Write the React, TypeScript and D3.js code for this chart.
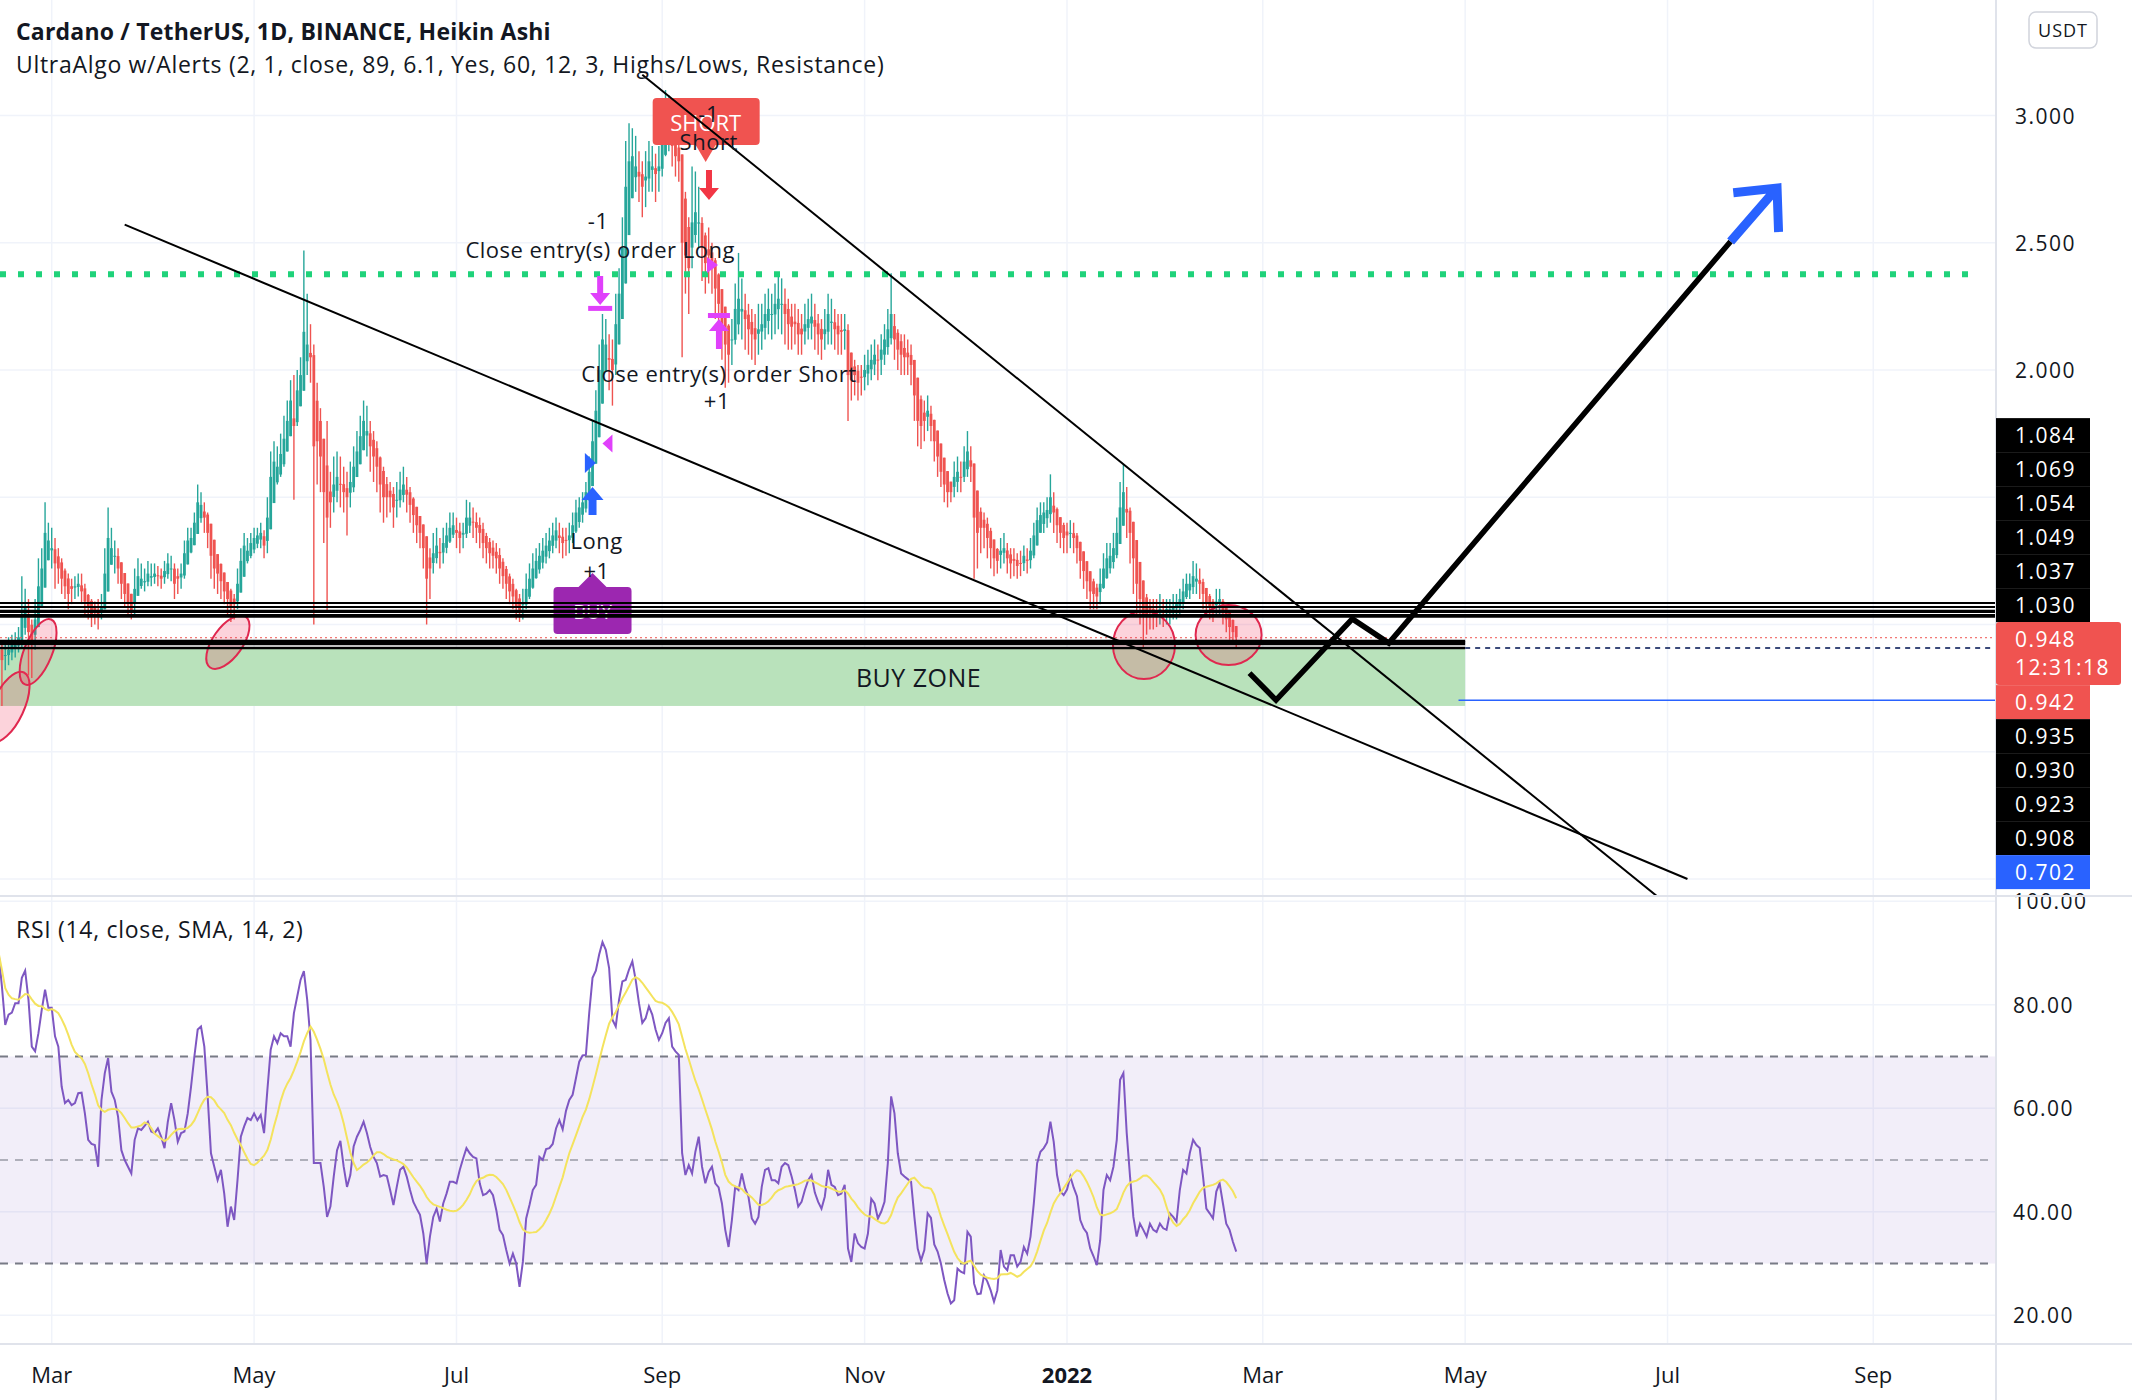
import React from "react";
import * as d3 from "d3";

const W = 2132;
const H = 1400;
const FONT = "'Open Sans', 'Noto Sans', sans-serif";
const UP = "#26a69a";
const DOWN = "#ef5350";

// ---- Heikin Ashi daily candles [high, low, close], first candle 2021-02-13
const haFeb2021 = [[0.95,0.80,0.89],[0.92,0.68,0.86],[0.93,0.82,0.88],[0.95,0.84,0.90],[0.96,0.86,0.92],[0.97,0.87,0.93],[0.99,0.89,0.95],[1.19,0.91,1.04],[1.14,0.96,1.07],[1.10,0.80,0.97],[1.02,0.79,0.92],[1.10,0.90,1.02],[1.26,1.00,1.15],[1.30,1.10,1.22],[1.48,1.18,1.36],[1.40,1.26,1.33]];
const haMar2021 = [[1.38,1.22,1.30],[1.34,1.14,1.24],[1.30,1.16,1.22],[1.26,1.12,1.18],[1.22,1.10,1.15],[1.20,1.06,1.12],[1.18,1.08,1.14],[1.19,1.10,1.15],[1.20,1.11,1.16],[1.20,1.08,1.13],[1.16,1.04,1.09],[1.12,1.02,1.07],[1.10,0.99,1.04],[1.09,1.00,1.05],[1.10,0.98,1.04],[1.12,1.02,1.07],[1.30,1.06,1.20],[1.46,1.18,1.34],[1.38,1.24,1.30],[1.33,1.20,1.27],[1.30,1.16,1.22],[1.24,1.10,1.16],[1.18,1.07,1.12],[1.14,1.04,1.08],[1.11,1.02,1.05],[1.22,1.04,1.14],[1.26,1.12,1.19],[1.24,1.14,1.18],[1.22,1.13,1.17],[1.25,1.15,1.20],[1.24,1.15,1.19]];
const haApr2021 = [[1.24,1.16,1.20],[1.23,1.15,1.19],[1.22,1.14,1.18],[1.25,1.16,1.21],[1.28,1.18,1.24],[1.27,1.17,1.22],[1.24,1.10,1.16],[1.22,1.12,1.18],[1.24,1.14,1.20],[1.33,1.18,1.28],[1.38,1.26,1.33],[1.38,1.28,1.34],[1.44,1.32,1.40],[1.55,1.38,1.48],[1.52,1.40,1.47],[1.48,1.36,1.42],[1.44,1.30,1.36],[1.38,1.18,1.27],[1.30,1.14,1.22],[1.26,1.12,1.20],[1.24,1.10,1.17],[1.20,1.08,1.13],[1.16,1.04,1.10],[1.14,1.01,1.07],[1.12,1.02,1.08],[1.22,1.06,1.16],[1.30,1.14,1.25],[1.36,1.24,1.31],[1.34,1.24,1.29],[1.36,1.26,1.32]];
const haMay2021 = [[1.38,1.28,1.34],[1.38,1.30,1.35],[1.40,1.30,1.36],[1.37,1.26,1.31],[1.50,1.28,1.42],[1.68,1.44,1.58],[1.72,1.56,1.64],[1.70,1.55,1.62],[1.75,1.58,1.67],[1.82,1.62,1.73],[1.88,1.68,1.80],[1.96,1.76,1.88],[1.98,1.49,1.78],[2.00,1.78,1.92],[2.05,1.88,1.98],[2.47,1.95,2.15],[2.30,1.98,2.10],[2.18,1.95,2.05],[2.10,1.00,1.70],[1.95,1.55,1.72],[1.85,1.52,1.66],[1.72,1.32,1.52],[1.80,1.05,1.42],[1.60,1.38,1.48],[1.66,1.44,1.55],[1.68,1.48,1.58],[1.66,1.46,1.55],[1.62,1.44,1.52],[1.60,1.35,1.50],[1.64,1.46,1.56],[1.70,1.52,1.62]];
const haJun2021 = [[1.76,1.58,1.68],[1.82,1.64,1.74],[1.88,1.70,1.80],[1.86,1.66,1.76],[1.80,1.60,1.70],[1.76,1.56,1.66],[1.72,1.52,1.62],[1.66,1.44,1.55],[1.62,1.40,1.50],[1.58,1.42,1.50],[1.56,1.44,1.50],[1.54,1.38,1.46],[1.56,1.42,1.49],[1.60,1.46,1.53],[1.62,1.48,1.55],[1.58,1.44,1.51],[1.54,1.40,1.47],[1.50,1.36,1.43],[1.46,1.32,1.39],[1.42,1.30,1.36],[1.38,1.22,1.30],[1.32,1.00,1.18],[1.30,1.10,1.22],[1.36,1.20,1.28],[1.38,1.24,1.31],[1.34,1.22,1.28],[1.38,1.24,1.32],[1.40,1.28,1.35],[1.44,1.32,1.38],[1.44,1.34,1.39]];
const haJul2021 = [[1.42,1.30,1.36],[1.40,1.28,1.34],[1.40,1.30,1.36],[1.49,1.34,1.42],[1.48,1.36,1.42],[1.46,1.34,1.40],[1.44,1.32,1.38],[1.42,1.30,1.36],[1.40,1.26,1.32],[1.36,1.24,1.30],[1.34,1.22,1.28],[1.33,1.22,1.27],[1.32,1.20,1.26],[1.30,1.16,1.22],[1.26,1.14,1.19],[1.23,1.10,1.16],[1.20,1.08,1.13],[1.18,1.06,1.11],[1.14,1.02,1.07],[1.12,1.01,1.05],[1.14,1.02,1.08],[1.20,1.06,1.14],[1.24,1.10,1.18],[1.28,1.14,1.22],[1.30,1.18,1.25],[1.32,1.20,1.27],[1.34,1.22,1.29],[1.36,1.24,1.31],[1.38,1.26,1.33],[1.40,1.28,1.35],[1.42,1.30,1.37]];
const haAug2021 = [[1.40,1.28,1.34],[1.38,1.26,1.32],[1.38,1.27,1.33],[1.40,1.28,1.35],[1.44,1.32,1.39],[1.49,1.36,1.44],[1.50,1.38,1.46],[1.52,1.40,1.48],[1.56,1.44,1.52],[1.66,1.50,1.60],[1.80,1.58,1.72],[1.92,1.70,1.84],[2.10,1.84,2.00],[2.22,1.96,2.12],[2.20,2.00,2.10],[2.14,1.92,2.04],[2.12,1.86,2.00],[2.30,1.98,2.18],[2.40,2.10,2.30],[2.60,2.28,2.48],[2.90,2.45,2.72],[2.97,2.62,2.82],[2.95,2.68,2.84],[2.92,2.70,2.80],[2.86,2.66,2.76],[2.82,2.60,2.72],[2.86,2.64,2.76],[2.90,2.70,2.82],[2.88,2.70,2.80],[2.85,2.66,2.77],[2.88,2.70,2.80]];
const haSep2021 = [[3.00,2.76,2.90],[3.10,2.84,2.98],[3.08,2.86,2.96],[2.98,2.80,2.88],[2.92,2.76,2.84],[2.90,2.74,2.82],[2.84,2.05,2.50],[2.70,2.30,2.45],[2.60,2.22,2.40],[2.80,2.40,2.58],[2.78,2.50,2.62],[2.72,2.48,2.58],[2.60,2.35,2.48],[2.54,2.30,2.42],[2.56,2.34,2.45],[2.50,2.30,2.40],[2.44,2.20,2.32],[2.38,2.14,2.26],[2.30,2.04,2.18],[2.24,1.93,2.10],[2.18,1.95,2.06],[2.20,2.02,2.12],[2.34,2.10,2.24],[2.46,2.14,2.28],[2.36,2.12,2.24],[2.30,2.08,2.20],[2.26,2.06,2.16],[2.24,2.04,2.14],[2.22,2.02,2.12],[2.26,2.06,2.16]];
const haOct2021 = [[2.26,2.08,2.18],[2.30,2.12,2.22],[2.32,2.14,2.24],[2.30,2.12,2.22],[2.34,2.14,2.26],[2.38,2.16,2.28],[2.36,2.14,2.26],[2.32,2.10,2.22],[2.28,2.08,2.18],[2.26,2.08,2.17],[2.26,2.10,2.18],[2.24,2.06,2.14],[2.22,2.06,2.14],[2.26,2.10,2.18],[2.28,2.12,2.20],[2.30,2.12,2.21],[2.26,2.08,2.17],[2.22,2.06,2.14],[2.20,2.04,2.12],[2.24,2.08,2.16],[2.30,2.10,2.22],[2.28,2.10,2.19],[2.24,2.08,2.16],[2.22,2.06,2.14],[2.22,2.06,2.15],[2.22,2.08,2.16],[2.18,1.80,1.98],[2.03,1.88,1.96],[2.04,1.90,1.98],[2.02,1.88,1.95],[2.02,1.90,1.97]];
const haNov2021 = [[2.06,1.92,2.00],[2.08,1.94,2.02],[2.10,1.96,2.04],[2.12,1.98,2.06],[2.10,1.96,2.04],[2.14,1.98,2.08],[2.18,2.02,2.12],[2.24,2.06,2.16],[2.38,2.10,2.22],[2.22,2.04,2.12],[2.16,2.00,2.08],[2.14,1.98,2.06],[2.14,1.98,2.05],[2.12,1.98,2.05],[2.10,1.94,2.02],[2.02,1.80,1.90],[1.94,1.70,1.80],[1.90,1.69,1.78],[1.88,1.72,1.80],[1.90,1.76,1.84],[1.86,1.72,1.78],[1.80,1.64,1.72],[1.74,1.58,1.66],[1.68,1.54,1.60],[1.62,1.48,1.55],[1.58,1.46,1.52],[1.56,1.48,1.52],[1.64,1.50,1.58],[1.66,1.52,1.60],[1.64,1.52,1.58]];
const haDec2021 = [[1.70,1.56,1.64],[1.76,1.58,1.68],[1.70,1.56,1.62],[1.62,1.18,1.42],[1.48,1.22,1.36],[1.46,1.28,1.38],[1.44,1.30,1.38],[1.42,1.26,1.34],[1.38,1.22,1.30],[1.32,1.19,1.26],[1.30,1.20,1.25],[1.34,1.22,1.29],[1.36,1.24,1.30],[1.32,1.20,1.26],[1.30,1.18,1.24],[1.30,1.19,1.25],[1.28,1.18,1.23],[1.29,1.19,1.24],[1.31,1.21,1.27],[1.30,1.20,1.25],[1.34,1.22,1.29],[1.40,1.26,1.35],[1.46,1.32,1.41],[1.48,1.36,1.43],[1.48,1.36,1.44],[1.50,1.38,1.45],[1.59,1.40,1.50],[1.52,1.36,1.44],[1.46,1.32,1.39],[1.42,1.30,1.36],[1.40,1.28,1.34]];
const haJan2022 = [[1.40,1.28,1.35],[1.41,1.30,1.36],[1.40,1.28,1.34],[1.36,1.24,1.30],[1.32,1.18,1.25],[1.28,1.14,1.21],[1.24,1.10,1.17],[1.20,1.06,1.13],[1.18,1.06,1.12],[1.16,1.06,1.11],[1.22,1.08,1.16],[1.28,1.14,1.22],[1.32,1.18,1.26],[1.32,1.20,1.27],[1.36,1.22,1.30],[1.42,1.26,1.36],[1.56,1.34,1.46],[1.63,1.40,1.52],[1.54,1.34,1.44],[1.46,1.24,1.36],[1.38,1.12,1.26],[1.28,1.04,1.16],[1.20,1.00,1.10],[1.14,0.91,1.04],[1.12,0.96,1.04],[1.10,0.98,1.05],[1.10,0.98,1.04],[1.10,0.99,1.05],[1.12,1.00,1.06],[1.10,0.99,1.05],[1.10,1.00,1.06]];
const haFeb2022 = [[1.10,1.00,1.06],[1.12,1.02,1.07],[1.12,1.02,1.08],[1.14,1.04,1.10],[1.18,1.06,1.13],[1.20,1.10,1.16],[1.20,1.10,1.16],[1.25,1.12,1.19],[1.24,1.12,1.18],[1.22,1.10,1.16],[1.18,1.06,1.12],[1.14,1.03,1.08],[1.12,1.02,1.07],[1.10,1.01,1.06],[1.14,1.03,1.09],[1.14,1.04,1.10],[1.10,1.00,1.05],[1.06,0.97,1.02],[1.04,0.94,0.99],[1.02,0.92,0.97],[0.99,0.91,0.95]];
const haOpenSeed = 0.91;

// ---- RSI(14) daily values, same days
const rsiFeb2021 = [90.0,83.5,76.1,78.1,78.5,80.3,80.3,85.2,86.6,81.0,71.9,71.0,74.5,79.0,82.9,79.4];
const rsiMar2021 = [79.4,73.9,71.9,64.2,61.0,61.6,60.6,61.0,62.9,63.0,59.0,53.9,53.1,52.9,48.7,61.6,66.8,69.7,63.2,61.6,58.4,51.9,50.0,48.7,47.4,53.9,56.1,55.8,56.6,57.4,55.5];
const rsiApr2021 = [55.2,56.1,54.5,52.3,57.4,61.0,57.7,53.5,55.2,55.5,59.0,64.2,70.0,75.2,75.8,71.9,62.3,51.3,48.7,46.1,48.1,43.5,37.1,41.0,38.4,46.1,54.5,56.5,58.1,57.7];
const rsiMay2021 = [59.0,57.7,58.7,55.2,63.5,71.3,73.9,72.6,74.5,73.9,73.9,71.9,78.4,81.6,84.8,86.5,81.0,73.2,49.4,49.4,49.4,44.8,39.0,41.0,46.8,51.9,53.7,48.7,44.8,47.1,52.6];
const rsiJun2021 = [54.5,55.8,57.4,55.2,52.5,50.6,49.4,46.8,47.1,46.9,44.2,41.3,44.8,48.1,48.7,46.8,44.2,41.9,40.6,39.4,35.8,30.0,35.2,39.0,40.6,38.1,41.6,43.5,45.8,45.8];
const rsiJul2021 = [45.5,48.1,50.3,52.3,51.3,50.6,50.3,45.5,43.2,43.5,44.2,43.2,40.3,36.5,35.5,32.6,30.0,31.9,30.0,25.5,30.3,38.7,41.3,44.2,45.2,50.6,50.0,52.1,52.3,53.1,56.1];
const rsiAug2021 = [57.7,55.9,59.5,61.6,62.6,65.8,69.0,70.2,70.3,78.4,85.2,86.6,89.7,92.1,90.6,87.1,77.1,75.8,81.0,84.5,84.8,86.8,88.4,84.8,80.3,76.5,77.4,79.7,78.1,75.2,73.2];
const rsiSep2021 = [74.5,76.5,77.4,71.9,71.0,70.3,51.3,47.1,49.0,47.4,51.6,54.5,48.7,45.5,47.7,48.7,45.5,44.7,41.6,36.5,33.2,38.4,44.8,44.2,47.4,44.5,42.9,38.7,37.7,39.0];
const rsiOct2021 = [44.8,48.1,48.4,46.1,46.1,45.5,48.7,49.4,49.0,46.8,44.2,41.0,41.9,44.2,46.1,47.1,43.7,41.9,40.6,42.9,48.1,45.2,44.8,43.2,43.5,45.2,32.9,30.3,35.8,33.9,33.2];
const rsiNov2021 = [32.9,35.8,42.5,41.6,38.7,40.0,41.9,49.4,62.3,59.0,51.3,47.4,46.8,46.3,45.8,39.0,32.9,30.6,32.6,39.7,38.8,33.7,32.3,30.0,26.8,24.2,22.3,22.9,29.0,28.4];
const rsiDec2021 = [28.1,36.1,35.2,26.1,24.1,24.2,27.7,26.5,24.8,22.6,24.8,32.6,29.4,28.7,31.6,31.6,29.4,30.3,33.2,31.9,35.2,41.6,49.4,51.6,52.3,53.4,57.4,53.5,47.1,43.9,43.2];
const rsiJan2022 = [44.3,46.8,44.7,43.0,38.4,36.8,35.9,32.9,31.4,29.7,34.5,44.2,47.1,46.1,48.7,53.9,65.5,66.8,55.2,46.8,39.0,35.2,37.7,36.5,35.2,37.7,36.5,36.1,37.7,36.8,36.5];
const rsiFeb2022 = [39.7,39.0,38.1,44.2,48.1,47.4,51.3,53.9,52.9,52.3,46.8,40.6,39.7,38.7,43.9,45.5,41.6,37.7,36.5,34.2,32.3];
const rsiMaLength = 14;

// ---- levels and axis
const resistanceLevels = [1.084, 1.069, 1.054, 1.049, 1.037, 1.03, 0.935, 0.93, 0.923, 0.908];
const lastPrice = 0.948;
const countdown = "12:31:18";
const alertPrice = 0.942;
const targetLevel = 0.702;
const targetLevelFrom = "2022-04-29";
const dottedResistance = 2.376;
const buyZone = [0.68, 0.908];
const buyZoneEnd = "2022-05-01";
const priceTicks = [0, 0.5, 1, 1.5, 2, 2.5, 3];
const rsiTicks = [20, 40, 60, 80, 100];
const rsiBands = [30, 50, 70];
const monthTicks = ["2021-03-01", "2021-05-01", "2021-07-01", "2021-09-01", "2021-11-01", "2022-01-01", "2022-03-01", "2022-05-01", "2022-07-01", "2022-09-01"];
const monthLabels = ["Mar", "May", "Jul", "Sep", "Nov", "2022", "Mar", "May", "Jul", "Sep"];

// ---- drawings (date, price)
const lowerWedge = [["2021-03-23", 2.571], ["2022-07-07", 0.0]];
const upperWedge = [["2021-08-26", 3.16], ["2022-06-29", -0.08]];
const projection = [["2022-02-25", 0.809], ["2022-03-05", 0.703], ["2022-03-28", 1.022], ["2022-04-08", 0.927], ["2022-07-20", 2.505]];
const projectionArrow = [["2022-07-20", 2.505], ["2022-08-03", 2.715]];
// ellipses: [day index, price]
const ellipseAnchors = [[2.8, 0.676], [11.9, 0.892], [69.1, 0.931], [345.2, 0.919], [370.7, 0.959]];

// strategy signals (day index, price)
const longSignal = { day: 179, label: 1.202, arrow: 1.54, textLong: 1.332, textQty: 1.214 };
const longMarkers = { enterDay: 178.2, enterPrice: 1.635, exitDay: 183.5, exitPrice: 1.711 };
const closeLong = { day: 181.3, bar: 2.244, qty: 2.589, text: 2.475 };
const shortSignal = { day: 213.1, label: 2.817, qty: 3.01, text: 2.9, arrowDay: 214.1, arrow: 2.668 };
const shortMarker = { day: 215, price: 2.413 };
const closeShort = { day: 217.1, bar: 2.216, text: 1.988, qty: 1.882 };

export default function App() {
  const parse = d3.utcParse("%Y-%m-%d");
  const D = (s: string) => parse(s) as Date;
  const start = D("2021-02-13");
  const dayAt = (i: number) => new Date(start.getTime() + i * 86400000);

  const PR = 1996; // plot right
  const PANE1_B = 896;
  const RSI_T = 897;
  const RSI_B = 1344;

  const x = d3.scaleUtc().domain([D("2021-03-01"), D("2022-01-01")]).range([51.7, 1067]);
  const yP = d3.scaleLinear().domain([0, 3]).range([879, 115.5]);
  const yR = d3.scaleLinear().domain([0, 100]).range([1418.75, 901.25]);
  const xd = (i: number) => x(dayAt(i));

  const ha = [...haFeb2021, ...haMar2021, ...haApr2021, ...haMay2021, ...haJun2021, ...haJul2021, ...haAug2021, ...haSep2021, ...haOct2021, ...haNov2021, ...haDec2021, ...haJan2022, ...haFeb2022];
  let prevO = haOpenSeed;
  let prevC = haOpenSeed;
  const candles = ha.map(([h, l, c], i) => {
    const o = i === 0 ? haOpenSeed : (prevO + prevC) / 2;
    prevO = o;
    prevC = c;
    return { i, o, c, h: Math.max(h, o, c), l: Math.min(l, o, c) };
  });

  const rsi = [...rsiFeb2021, ...rsiMar2021, ...rsiApr2021, ...rsiMay2021, ...rsiJun2021, ...rsiJul2021, ...rsiAug2021, ...rsiSep2021, ...rsiOct2021, ...rsiNov2021, ...rsiDec2021, ...rsiJan2022, ...rsiFeb2022];
  const rsiMa = rsi.map((_, i) => d3.mean(rsi.slice(Math.max(0, i - rsiMaLength + 1), i + 1)) as number);
  const rsiLine = d3.line<number>().x((_, i) => xd(i)).y((v) => yR(v));

  const ptLine = d3.line<any>().x((d) => x(D(d[0]))).y((d) => yP(d[1]));

  const upperLevels = resistanceLevels.filter((v) => v > lastPrice);
  const lowerLevels = resistanceLevels.filter((v) => v < lastPrice);

  // price-axis label stack
  type Lab = { text: string; sub?: string; fill: string; h: number; w: number };
  const stack: Lab[] = [
    ...upperLevels.map((v) => ({ text: v.toFixed(3), fill: "#000000", h: 34, w: 94 })),
    { text: lastPrice.toFixed(3), sub: countdown, fill: "#f05350", h: 63, w: 125 },
    { text: alertPrice.toFixed(3), fill: "#f05350", h: 34, w: 94 },
    ...lowerLevels.map((v) => ({ text: v.toFixed(3), fill: "#000000", h: 34, w: 94 })),
    { text: targetLevel.toFixed(3), fill: "#2962ff", h: 34, w: 94 },
  ];
  let cursor = yP(upperLevels[0]) - 185;
  const stackTop = cursor;
  const stackPos = stack.map((s) => {
    const top = cursor;
    cursor += s.h;
    return { ...s, top };
  });
  const stackBottom = cursor;
  // tick labels hidden behind the label stack are not drawn
  const visiblePriceTicks = priceTicks.filter((p) => yP(p) < stackTop - 10 || yP(p) > stackBottom + 10);

  const ell = [
    { rx: 38, ry: 16, rot: -65 },
    { rx: 35, ry: 14, rot: -68 },
    { rx: 31, ry: 15, rot: -55 },
    { rx: 31, ry: 34, rot: 0 },
    { rx: 33, ry: 30, rot: 0 },
  ];

  const textStyle = { fontFamily: FONT, fontSize: 23, letterSpacing: 0.7, fill: "#131722" } as const;
  const noteStyle = { fontFamily: FONT, fontSize: 22, letterSpacing: 0.5, fill: "#131722" } as const;
  const axisStyle = { fontFamily: FONT, fontSize: 21, letterSpacing: 1.5, fill: "#131722" } as const;

  // arrow head geometry
  const a0 = projectionArrow[0];
  const a1 = projectionArrow[1];
  const ax0 = x(D(a0[0] as string)), ay0 = yP(a0[1] as number);
  const ax1 = x(D(a1[0] as string)), ay1 = yP(a1[1] as number);
  const ang = Math.atan2(ay1 - ay0, ax1 - ax0);
  const headLen = 44;
  const h1 = [ax1 + headLen * Math.cos(ang + Math.PI - 0.75), ay1 + headLen * Math.sin(ang + Math.PI - 0.75)];
  const h2 = [ax1 + headLen * Math.cos(ang + Math.PI + 0.75), ay1 + headLen * Math.sin(ang + Math.PI + 0.75)];

  const lx = xd(longSignal.day);
  const cLx = xd(closeLong.day);
  const sx = xd(shortSignal.day);
  const csx = xd(closeShort.day);

  return (
    <svg width={W} height={H} style={{ position: "absolute", left: 0, top: 0, display: "block", background: "#fff" }}>
      <defs>
        <clipPath id="pricePane"><rect x={0} y={0} width={PR} height={PANE1_B} /></clipPath>
        <clipPath id="rsiPane"><rect x={0} y={RSI_T} width={PR} height={RSI_B - RSI_T} /></clipPath>
      </defs>
      <rect x={0} y={0} width={W} height={H} fill="#ffffff" />

      {/* grid */}
      <g stroke="#f0f3fa" strokeWidth={1.5}>
        {monthTicks.map((m) => (
          <line key={m} x1={x(D(m))} x2={x(D(m))} y1={0} y2={RSI_B} />
        ))}
        {priceTicks.map((p) => (
          <line key={p} x1={0} x2={PR} y1={yP(p)} y2={yP(p)} />
        ))}
        {rsiTicks.map((r) => (
          <line key={r} x1={0} x2={PR} y1={yR(r)} y2={yR(r)} />
        ))}
      </g>

      {/* price pane */}
      <g clipPath="url(#pricePane)">
        <rect x={0} y={yP(buyZone[1])} width={x(D(buyZoneEnd))} height={yP(buyZone[0]) - yP(buyZone[1])} fill="#b9e2bb" />
        <text x={x(D(buyZoneEnd)) / 2 + 186} y={yP((buyZone[0] + buyZone[1]) / 2)} dominantBaseline="central" textAnchor="middle" style={{ ...noteStyle, fontSize: 25 }}>BUY ZONE</text>

        {candles.map((k) => {
          const cx = xd(k.i);
          const col = k.c >= k.o ? UP : DOWN;
          const top = yP(Math.max(k.o, k.c));
          const bot = yP(Math.min(k.o, k.c));
          return (
            <g key={k.i}>
              <line x1={cx} x2={cx} y1={yP(k.h)} y2={yP(k.l)} stroke={col} strokeWidth={1.4} />
              <rect x={cx - 1.4} y={top} width={2.8} height={Math.max(1, bot - top)} fill={col} />
            </g>
          );
        })}

        {/* dotted resistance */}
        <line x1={0} x2={1980} y1={yP(dottedResistance)} y2={yP(dottedResistance)} stroke="#1fd27a" strokeWidth={6} strokeDasharray="6 12" />
        {/* last price */}
        <line x1={0} x2={PR} y1={yP(lastPrice)} y2={yP(lastPrice)} stroke="#f05350" strokeWidth={1} strokeDasharray="2 3" />
        {/* target */}
        <line x1={x(D(targetLevelFrom))} x2={PR} y1={yP(targetLevel)} y2={yP(targetLevel)} stroke="#2962ff" strokeWidth={1.5} />

        {/* ellipses */}
        {ellipseAnchors.map((e, i) => (
          <ellipse key={i} cx={0} cy={0} rx={ell[i].rx} ry={ell[i].ry}
            transform={`translate(${xd(e[0])},${yP(e[1])}) rotate(${ell[i].rot})`}
            fill="rgba(242, 54, 92, 0.22)" stroke="#e0284f" strokeWidth={2} />
        ))}

        {/* BUY label */}
        <g>
          <path d={`M${lx - 14},${yP(longSignal.label) + 14} L${lx},${yP(longSignal.label)} L${lx + 14},${yP(longSignal.label) + 14} Z`} fill="#9c27b0" />
          <rect x={lx - 39} y={yP(longSignal.label) + 14} width={78} height={47} rx={4} fill="#9c27b0" />
          <text x={lx} y={yP(longSignal.label) + 38} textAnchor="middle" dominantBaseline="central" style={{ fontFamily: FONT, fontSize: 20, fill: "#ffffff" }}>BUY</text>
        </g>

        {/* SHORT label */}
        <g>
          <rect x={sx - 53} y={yP(shortSignal.label) - 64} width={107} height={47} rx={4} fill="#f05350" />
          <path d={`M${sx - 10},${yP(shortSignal.label) - 17} L${sx},${yP(shortSignal.label)} L${sx + 10},${yP(shortSignal.label) - 17} Z`} fill="#f05350" />
          <text x={sx} y={yP(shortSignal.label) - 40} textAnchor="middle" dominantBaseline="central" style={{ fontFamily: FONT, fontSize: 22, fill: "#ffffff" }}>SHORT</text>
        </g>

        {/* horizontal resistance lines */}
        {upperLevels.map((v) => (
          <line key={v} x1={0} x2={PR} y1={yP(v)} y2={yP(v)} stroke="#000" strokeWidth={2} />
        ))}
        {lowerLevels.map((v) => (
          <line key={v} x1={0} x2={x(D(buyZoneEnd))} y1={yP(v)} y2={yP(v)} stroke="#000" strokeWidth={2.5} />
        ))}
        <line x1={x(D(buyZoneEnd))} x2={PR} y1={yP(buyZone[1])} y2={yP(buyZone[1])} stroke="#3a4a7a" strokeWidth={2} strokeDasharray="5 5" />

        {/* trend lines */}
        <path d={ptLine(lowerWedge) as string} stroke="#000" strokeWidth={2} fill="none" />
        <path d={ptLine(upperWedge) as string} stroke="#000" strokeWidth={2} fill="none" />
        <path d={ptLine(projection) as string} stroke="#000" strokeWidth={5.5} fill="none" strokeLinejoin="miter" />
        <path d={`M${ax0},${ay0} L${ax1},${ay1} M${h1[0]},${h1[1]} L${ax1},${ay1} L${h2[0]},${h2[1]}`} stroke="#2962ff" strokeWidth={9} fill="none" strokeLinejoin="miter" strokeLinecap="butt" />

        {/* long entry markers */}
        <path d={`M${lx},${yP(longSignal.arrow)} l-11,13 h7 v15 h8 v-15 h7 Z`} fill="#2962ff" />
        <path d={`M${xd(longMarkers.enterDay) - 5},${yP(longMarkers.enterPrice) - 10} l11,10 l-11,10 Z`} fill="#2962ff" />
        <path d={`M${xd(longMarkers.exitDay) + 5},${yP(longMarkers.exitPrice) - 9} l-10,9 l10,9 Z`} fill="#e040fb" />
        <text x={lx + 4} y={yP(longSignal.textLong)} textAnchor="middle" dominantBaseline="central" style={noteStyle}>Long</text>
        <text x={lx + 4} y={yP(longSignal.textQty)} textAnchor="middle" dominantBaseline="central" style={noteStyle}>+1</text>

        {/* close long */}
        <path d={`M${cLx - 3},${yP(closeLong.bar) - 32} h6 v17 h7 l-10,12 l-10,-12 h7 Z`} fill="#e040fb" />
        <rect x={cLx - 12} y={yP(closeLong.bar) - 2} width={24} height={5} fill="#e040fb" />
        <text x={cLx - 2} y={yP(closeLong.qty)} textAnchor="middle" dominantBaseline="central" style={noteStyle}>-1</text>
        <text x={cLx} y={yP(closeLong.text)} textAnchor="middle" dominantBaseline="central" style={noteStyle}>Close entry(s) order Long</text>

        {/* short */}
        <text x={sx + 3} y={yP(shortSignal.qty)} textAnchor="middle" dominantBaseline="central" style={noteStyle}>-1</text>
        <text x={sx + 3} y={yP(shortSignal.text)} textAnchor="middle" dominantBaseline="central" style={noteStyle}>Short</text>
        <path d={`M${xd(shortSignal.arrowDay)},${yP(shortSignal.arrow)} l-10,-12 h7 v-18 h6 v18 h7 Z`} fill="#f23645" />
        <path d={`M${xd(shortMarker.day) - 5},${yP(shortMarker.price) - 8} l11,8 l-11,8 Z`} fill="#e040fb" />

        {/* close short */}
        <rect x={csx - 11} y={yP(closeShort.bar) - 2} width={22} height={5} fill="#e040fb" />
        <path d={`M${csx},${yP(closeShort.bar) + 4} l10,12 h-7 v18 h-6 v-18 h-7 Z`} fill="#e040fb" />
        <text x={csx} y={yP(closeShort.text)} textAnchor="middle" dominantBaseline="central" style={noteStyle}>Close entry(s) order Short</text>
        <text x={csx - 2} y={yP(closeShort.qty)} textAnchor="middle" dominantBaseline="central" style={noteStyle}>+1</text>
      </g>

      {/* legend */}
      <text x={16} y={40} style={{ ...textStyle, letterSpacing: 0.2, fontWeight: 700 }}>Cardano / TetherUS, 1D, BINANCE, Heikin Ashi</text>
      <text x={16} y={73} style={textStyle}>UltraAlgo w/Alerts (2, 1, close, 89, 6.1, Yes, 60, 12, 3, Highs/Lows, Resistance)</text>

      {/* RSI pane */}
      <g clipPath="url(#rsiPane)">
        <rect x={0} y={yR(70)} width={PR} height={yR(30) - yR(70)} fill="rgba(126, 87, 194, 0.1)" />
        {rsiBands.map((b) => (
          <line key={b} x1={0} x2={PR} y1={yR(b)} y2={yR(b)} stroke={b === 50 ? "rgba(120,123,134,0.55)" : "#787b86"} strokeWidth={2} strokeDasharray="8 7" />
        ))}
        <path d={rsiLine(rsi) as string} fill="none" stroke="#7e57c2" strokeWidth={2} />
        <path d={rsiLine(rsiMa) as string} fill="none" stroke="#f4e35e" strokeWidth={2} />
      </g>
      <text x={16} y={938} style={textStyle}>RSI (14, close, SMA, 14, 2)</text>

      {/* axis borders */}
      <line x1={PR} x2={PR} y1={0} y2={H} stroke="#e0e3eb" strokeWidth={2} />

      {/* price axis */}
      {visiblePriceTicks.map((p) => (
        <text key={p} x={2015} y={yP(p)} dominantBaseline="central" style={axisStyle}>{p.toFixed(3)}</text>
      ))}
      {stackPos.map((s, i) => (
        <g key={i}>
          <rect x={PR} y={s.top} width={s.w} height={s.h} fill={s.fill} rx={s.sub ? 3 : 0} />
          <text x={2015} y={s.top + 17} dominantBaseline="central" style={{ ...axisStyle, fill: "#ffffff" }}>{s.text}</text>
          {s.sub && (
            <text x={2015} y={s.top + 45} dominantBaseline="central" style={{ ...axisStyle, fill: "#ffffff" }}>{s.sub}</text>
          )}
        </g>
      ))}
      <rect x={2029} y={12} width={68} height={36} rx={7} fill="#ffffff" stroke="#d1d4dc" strokeWidth={1.5} />
      <text x={2063} y={30} textAnchor="middle" dominantBaseline="central" style={{ ...axisStyle, fontSize: 18, letterSpacing: 1 }}>USDT</text>

      {/* RSI axis */}
      {rsiTicks.map((r) => (
        <text key={r} x={2013} y={yR(r)} dominantBaseline="central" style={axisStyle}>{r.toFixed(2)}</text>
      ))}

      {/* pane separators */}
      <line x1={0} x2={W} y1={PANE1_B} y2={PANE1_B} stroke="#e0e3eb" strokeWidth={2} />
      <line x1={0} x2={W} y1={RSI_B} y2={RSI_B} stroke="#e0e3eb" strokeWidth={2} />

      {/* time axis */}
      {monthTicks.map((m, i) => (
        <text key={m} x={x(D(m))} y={1374} textAnchor="middle" dominantBaseline="central"
          style={{ fontFamily: FONT, fontSize: 22, fill: "#131722", fontWeight: monthLabels[i] === "2022" ? 700 : 400 }}>{monthLabels[i]}</text>
      ))}
    </svg>
  );
}
